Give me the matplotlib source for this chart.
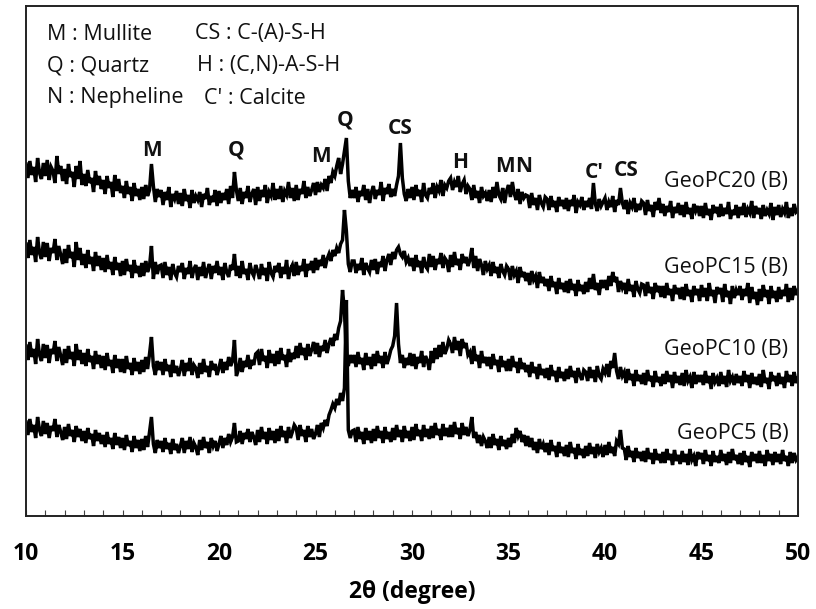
import numpy as np
import matplotlib
matplotlib.use("Agg")
import matplotlib.pyplot as plt
from matplotlib.ticker import MultipleLocator

# 2-theta scan from 10 to 50 degrees, one reading every 0.1 degree
scan_start = 10.0
scan_step = 0.1

# Intensities (a.u., stacked) for each sample
geopc20 = [
    352, 338, 355, 341, 349, 334, 358, 343, 337, 353,
    340, 356, 336, 349, 345, 333, 360, 342, 350, 335,
    347, 332, 352, 339, 344, 329, 350, 337, 355, 331,
    342, 330, 346, 333, 338, 324, 345, 331, 340, 327,
    336, 322, 340, 328, 334, 319, 341, 325, 337, 323,
    330, 318, 335, 322, 329, 315, 333, 320, 327, 316,
    329, 317, 331, 320, 326, 352, 330, 314, 327, 319,
    326, 311, 324, 316, 329, 309, 322, 317, 325, 312,
    323, 310, 327, 315, 321, 308, 326, 313, 320, 316,
    324, 309, 322, 317, 328, 311, 320, 314, 326, 310,
    325, 313, 323, 316, 327, 312, 330, 318, 344, 326,
    315, 328, 312, 324, 318, 330, 314, 322, 327, 311,
    329, 315, 326, 319, 331, 313, 324, 320, 333, 316,
    327, 317, 330, 314, 325, 321, 334, 318, 328, 315,
    331, 316, 327, 322, 335, 318, 329, 320, 326, 333,
    321, 334, 324, 331, 328, 337, 325, 340, 333, 344,
    340, 350, 358, 342, 352, 365, 378, 335, 318, 326,
    318, 329, 314, 325, 320, 331, 316, 327, 313, 324,
    330, 317, 326, 321, 334, 315, 328, 322, 332, 319,
    327, 320, 331, 340, 373, 338, 322, 315, 327, 318,
    329, 316, 331, 320, 326, 314, 333, 321, 318, 328,
    322, 333, 318, 329, 325, 336, 320, 331, 328, 335,
    338, 326, 334, 329, 340, 324, 332, 336, 322, 330,
    327, 316, 331, 318, 325, 313, 329, 320, 323, 315,
    326, 314, 329, 318, 334, 321, 317, 328, 313, 325,
    331, 319, 334, 322, 316, 327, 312, 324, 318, 321,
    320, 308, 323, 311, 318, 306, 321, 313, 309, 319,
    317, 306, 320, 309, 315, 304, 319, 310, 316, 307,
    318, 305, 316, 310, 321, 303, 314, 311, 319, 306,
    315, 309, 318, 307, 333, 312, 305, 317, 310, 314,
    318, 306, 314, 309, 320, 304, 316, 311, 328, 313,
    307, 316, 302, 313, 309, 318, 304, 312, 306, 315,
    313, 301, 316, 305, 311, 299, 314, 306, 318, 303,
    312, 300, 310, 304, 315, 298, 309, 303, 313, 301,
    311, 299, 314, 302, 308, 297, 312, 305, 310, 300,
    310, 298, 313, 301, 307, 296, 311, 303, 309, 299,
    312, 300, 308, 302, 314, 297, 306, 301, 311, 298,
    309, 301, 313, 299, 307, 303, 315, 298, 310, 302,
    308, 297, 311, 300, 306, 302, 313, 296, 309, 301,
    311, 299, 307, 303, 314, 298, 308, 300, 312, 304,
    306,
]

geopc15 = [
    272, 258, 276, 261, 269, 254, 279, 263, 257, 274,
    259, 273, 255, 268, 263, 277, 256, 270, 261, 252,
    267, 253, 271, 258, 264, 249, 274, 256, 268, 251,
    262, 248, 266, 252, 259, 245, 264, 250, 260, 246,
    258, 244, 261, 247, 254, 241, 259, 246, 253, 240,
    255, 241, 257, 245, 251, 238, 256, 243, 250, 239,
    253, 240, 255, 244, 250, 270, 237, 254, 242, 250,
    251, 238, 254, 241, 249, 236, 252, 243, 239, 250,
    244, 253, 237, 248, 242, 255, 238, 247, 251, 236,
    249, 240, 254, 238, 246, 252, 237, 250, 243, 255,
    241, 249, 236, 253, 244, 239, 251, 246, 262, 240,
    250, 238, 255, 242, 247, 236, 253, 244, 240, 251,
    245, 237, 252, 241, 248, 235, 254, 243, 239, 250,
    244, 253, 238, 249, 242, 256, 237, 247, 251, 240,
    254, 241, 250, 245, 257, 239, 252, 246, 255, 243,
    258, 246, 256, 250, 261, 248, 257, 262, 255, 266,
    260, 268, 263, 272, 276, 306, 285, 252, 244, 255,
    255, 243, 252, 246, 258, 241, 253, 248, 244, 256,
    246, 257, 242, 254, 249, 260, 245, 256, 262, 251,
    264, 257, 266, 269, 262, 259, 265, 254, 258, 250,
    258, 245, 261, 249, 255, 243, 259, 250, 247, 262,
    249, 260, 246, 257, 252, 263, 248, 258, 255, 244,
    261, 249, 264, 251, 257, 246, 262, 253, 259, 250,
    256, 268, 248, 260, 245, 257, 251, 241, 255, 247,
    251, 240, 254, 243, 249, 238, 252, 245, 241, 250,
    247, 236, 250, 241, 245, 233, 249, 239, 244, 235,
    243, 231, 245, 236, 240, 228, 244, 233, 239, 230,
    237, 225, 240, 229, 234, 222, 238, 227, 233, 224,
    235, 223, 237, 226, 232, 220, 236, 225, 231, 222,
    234, 224, 238, 227, 242, 226, 233, 221, 236, 228,
    236, 226, 240, 230, 244, 234, 239, 224, 235, 228,
    233, 222, 237, 225, 231, 219, 235, 227, 223, 232,
    231, 220, 234, 223, 229, 217, 233, 224, 230, 219,
    230, 218, 233, 221, 227, 215, 231, 222, 228, 217,
    229, 216, 232, 220, 226, 214, 230, 221, 227, 215,
    231, 219, 228, 215, 233, 220, 226, 213, 229, 222,
    228, 214, 232, 219, 225, 212, 230, 218, 226, 221,
    230, 216, 227, 220, 233, 213, 229, 217, 224, 211,
    227, 215, 231, 219, 226, 212, 230, 218, 225, 214,
    229, 217, 226, 220, 232, 214, 228, 216, 230, 221,
    226,
]

geopc10 = [
    170, 156, 174, 159, 167, 152, 177, 161, 155, 172,
    158, 171, 153, 167, 162, 175, 155, 169, 160, 151,
    167, 153, 170, 157, 164, 150, 172, 156, 166, 152,
    163, 150, 167, 154, 160, 147, 165, 152, 161, 148,
    160, 146, 163, 150, 156, 143, 161, 148, 157, 144,
    157, 143, 160, 147, 153, 141, 158, 145, 154, 142,
    156, 144, 159, 147, 162, 179, 150, 141, 155, 146,
    154, 141, 157, 145, 151, 139, 156, 143, 150, 140,
    147, 156, 140, 153, 145, 158, 141, 151, 148, 138,
    153, 142, 157, 144, 150, 139, 155, 146, 152, 141,
    148, 157, 143, 154, 146, 159, 150, 155, 176, 140,
    146, 158, 144, 155, 149, 161, 147, 156, 151, 162,
    164, 151, 167, 155, 160, 148, 166, 153, 162, 150,
    165, 152, 168, 156, 161, 149, 167, 154, 163, 157,
    170, 158, 173, 161, 168, 156, 172, 160, 166, 174,
    162, 173, 159, 170, 165, 176, 163, 172, 178, 170,
    182, 176, 188, 195, 226, 205, 158, 150, 161, 153,
    161, 149, 164, 152, 158, 146, 163, 151, 159, 147,
    162, 150, 165, 153, 160, 148, 164, 152, 158, 166,
    170, 180, 213, 172, 153, 161, 148, 158, 151, 163,
    150, 162, 147, 159, 153, 165, 149, 160, 155, 146,
    165, 153, 168, 157, 171, 159, 174, 162, 167, 176,
    172, 163, 179, 166, 175, 160, 177, 168, 173, 161,
    164, 152, 170, 155, 161, 148, 165, 153, 159, 150,
    159, 147, 162, 151, 156, 144, 160, 149, 155, 145,
    157, 145, 160, 149, 154, 143, 158, 147, 153, 144,
    151, 139, 154, 143, 149, 137, 152, 141, 147, 138,
    148, 136, 151, 140, 145, 134, 149, 138, 144, 135,
    147, 137, 150, 139, 145, 133, 148, 141, 136, 146,
    144, 135, 149, 138, 146, 134, 150, 140, 137, 147,
    143, 152, 139, 155, 148, 163, 145, 137, 149, 140,
    144, 133, 147, 136, 142, 130, 146, 135, 141, 132,
    143, 131, 146, 135, 140, 129, 145, 134, 139, 130,
    142, 132, 145, 134, 141, 128, 144, 133, 140, 131,
    143, 130, 146, 135, 139, 128, 144, 132, 141, 134,
    141, 131, 145, 133, 140, 127, 143, 134, 138, 130,
    144, 132, 140, 129, 146, 135, 139, 131, 142, 133,
    140, 130, 145, 134, 141, 128, 143, 132, 139, 131,
    142, 129, 146, 133, 138, 127, 144, 135, 140, 130,
    143, 132, 139, 128, 145, 134, 141, 130, 144, 133,
    138,
]

geopc5 = [
    94, 81, 97, 84, 91, 78, 99, 86, 80, 95,
    82, 93, 78, 90, 85, 97, 79, 91, 84, 76,
    89, 77, 92, 80, 86, 74, 90, 79, 87, 75,
    85, 73, 88, 77, 82, 70, 86, 75, 83, 72,
    81, 69, 84, 72, 78, 67, 83, 71, 79, 68,
    78, 66, 81, 70, 75, 64, 80, 68, 76, 65,
    77, 66, 80, 69, 84, 99, 72, 63, 76, 68,
    75, 64, 78, 67, 73, 62, 77, 66, 72, 63,
    70, 78, 63, 75, 67, 79, 64, 73, 69, 61,
    76, 66, 79, 68, 74, 63, 78, 70, 75, 65,
    72, 80, 68, 78, 71, 82, 74, 79, 93, 74,
    75, 85, 72, 83, 77, 87, 74, 84, 79, 71,
    86, 74, 89, 77, 84, 72, 88, 76, 85, 73,
    87, 75, 90, 79, 85, 73, 89, 78, 84, 91,
    88, 76, 91, 80, 86, 74, 90, 79, 87, 77,
    82, 91, 79, 93, 88, 96, 90, 101, 106, 112,
    108, 117, 111, 123, 115, 128, 216, 86, 78, 85,
    86, 74, 89, 77, 84, 72, 88, 76, 85, 73,
    87, 75, 90, 78, 85, 73, 89, 77, 84, 74,
    88, 76, 91, 79, 86, 74, 90, 78, 85, 75,
    89, 76, 92, 80, 86, 75, 91, 79, 87, 77,
    90, 78, 93, 81, 87, 76, 92, 80, 88, 79,
    91, 79, 94, 82, 88, 77, 93, 81, 89, 80,
    86, 99, 78, 84, 73, 81, 70, 79, 75, 68,
    79, 68, 82, 71, 77, 66, 80, 70, 76, 67,
    78, 69, 82, 73, 88, 80, 85, 74, 81, 70,
    80, 69, 78, 66, 74, 63, 77, 67, 72, 64,
    73, 61, 76, 65, 70, 59, 74, 63, 69, 60,
    71, 59, 74, 63, 68, 57, 72, 61, 67, 58,
    70, 60, 73, 62, 69, 58, 72, 64, 68, 59,
    71, 61, 74, 63, 69, 60, 75, 72, 86, 68,
    67, 56, 70, 59, 65, 54, 68, 58, 64, 55,
    65, 54, 68, 57, 63, 52, 67, 56, 62, 53,
    64, 53, 67, 56, 62, 51, 66, 55, 61, 52,
    65, 54, 62, 51, 67, 56, 60, 50, 64, 57,
    63, 52, 66, 55, 61, 50, 65, 54, 60, 53,
    66, 55, 62, 51, 64, 53, 67, 56, 61, 52,
    63, 51, 65, 54, 60, 49, 64, 55, 62, 53,
    65, 53, 61, 50, 66, 55, 62, 51, 64, 54,
    62, 52, 66, 55, 60, 50, 64, 53, 63, 56,
    59,
]

sample_names = ["GeoPC20 (B)", "GeoPC15 (B)", "GeoPC10 (B)", "GeoPC5 (B)"]
sample_data = [geopc20, geopc15, geopc10, geopc5]

# Phase marks above the GeoPC20 pattern
phase_marks = ["M", "Q", "M", "Q", "CS", "H", "M", "N", "C'", "CS"]
phase_x = [16.55, 20.9, 25.3, 26.55, 29.4, 32.5, 34.8, 35.8, 39.45, 41.1]
phase_y = [366, 366, 359, 396, 388, 354, 350, 350, 343, 345]

key_left = ["M : Mullite", "Q : Quartz", "N : Nepheline"]
key_right = ["CS : C-(A)-S-H", "H : (C,N)-A-S-H", "C' : Calcite"]

W, H = 816, 609
fig = plt.figure(figsize=(W / 100, H / 100), dpi=100)
ax = fig.add_axes([26 / W, 1 - 516 / H, (798 - 26) / W, (516 - 6) / H])

for vals in sample_data:
    y = np.asarray(vals, dtype=float)
    tt = scan_start + scan_step * np.arange(len(y))
    ax.plot(tt, y, color="black", lw=2.5, solid_joinstyle="miter")

ax.set_xlim(10, 50)
ax.set_ylim(0, 510)
ax.set_yticks([])
ax.xaxis.set_major_locator(MultipleLocator(5))
ax.xaxis.set_minor_locator(MultipleLocator(1))
ax.tick_params(axis="x", which="both", direction="in", length=4,
               width=0.8, color="#444444", pad=19, labelsize=16.5)
for lab in ax.get_xticklabels():
    lab.set_fontweight("bold")
    lab.set_family("Open Sans")
for sp in ax.spines.values():
    sp.set_linewidth(1.4)
    sp.set_color("#222222")

# axis title placed directly under the tick labels
fig.text(412 / W, 1 - 592 / H, "2θ (degree)", ha="center", va="center",
         fontsize=16.5, fontweight="bold", family="Open Sans")

# sample labels at the right end of each pattern
label_y = [335, 248, 166, 83]
for name, ly in zip(sample_names, label_y):
    ax.text(49.5, ly, name, ha="right", va="center", fontsize=15.5,
            family="Open Sans", color="#111111")

# phase symbols
for s, px, py in zip(phase_marks, phase_x, phase_y):
    ax.text(px, py, s, ha="center", va="center", fontsize=15,
            fontweight="bold", family="Open Sans", color="#111111")

# phase key
key_right_x = [18.75, 18.85, 19.2]
for i in range(3):
    yy = 482 - i * 32
    ax.text(11.1, yy, key_left[i], ha="left", va="center", fontsize=15.5,
            family="Open Sans", color="#111111")
    ax.text(key_right_x[i], yy, key_right[i], ha="left", va="center",
            fontsize=15.5, family="Open Sans", color="#111111")

fig.savefig("out.png", dpi=100)
